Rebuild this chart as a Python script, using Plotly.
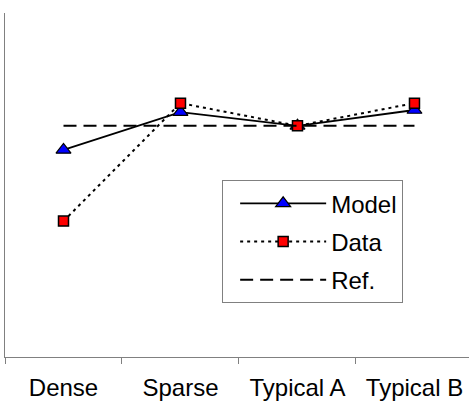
import plotly.graph_objects as go

categories = ["Dense", "Sparse", "Typical A", "Typical B"]
model = [60.2, 71.2, 67.2, 71.8]
data = [39.5, 73.8, 67.2, 73.8]
ref = [67.2, 67.2, 67.2, 67.2]

FONT = "Arial, Liberation Sans, sans-serif"

fig = go.Figure()
fig.add_trace(go.Scatter(
    x=categories, y=model, name="Model", mode="lines+markers",
    line=dict(color="black", width=1.8),
    marker=dict(symbol="triangle-up", size=13, color="#0000FF",
                line=dict(color="black", width=1.2)),
    legendgroup="a"))
fig.add_trace(go.Scatter(
    x=categories, y=data, name="Data", mode="lines+markers",
    line=dict(color="black", width=2, dash="3px,4px"),
    marker=dict(symbol="square", size=10, color="#FF0000",
                line=dict(color="black", width=1.5)),
    legendgroup="b"))
fig.add_trace(go.Scatter(
    x=categories, y=ref, name="Ref.", mode="lines",
    line=dict(color="black", width=2, dash="13px,7px"),
    legendgroup="c"))

fig.update_layout(
    width=469, height=405,
    margin=dict(l=5, r=0, t=13, b=48),
    paper_bgcolor="white", plot_bgcolor="white",
    font=dict(family=FONT, size=24, color="black"),
    showlegend=True,
    legend=dict(x=0.468, y=0.514, xanchor="left", yanchor="top",
                bgcolor="white", bordercolor="#808080", borderwidth=1,
                font=dict(family=FONT, size=24, color="black"),
                traceorder="grouped", tracegroupgap=4, itemwidth=86,
                indentation=12),
    xaxis=dict(type="category", range=[-0.5, 3.466], showgrid=False,
               showline=True, linecolor="#808080", linewidth=1,
               ticks="outside", ticklen=6, tickcolor="#808080",
               tickson="boundaries", ticklabelstandoff=9,
               tickfont=dict(family=FONT, size=24, color="black"),
               zeroline=False, automargin=False),
    yaxis=dict(range=[0, 100], showgrid=False, showline=True,
               linecolor="#808080", linewidth=1, showticklabels=False,
               ticks="", zeroline=False, automargin=False),
)

fig.write_html("out.html", config={"displayModeBar": False},
               post_script="document.body.style.margin='0px';")
